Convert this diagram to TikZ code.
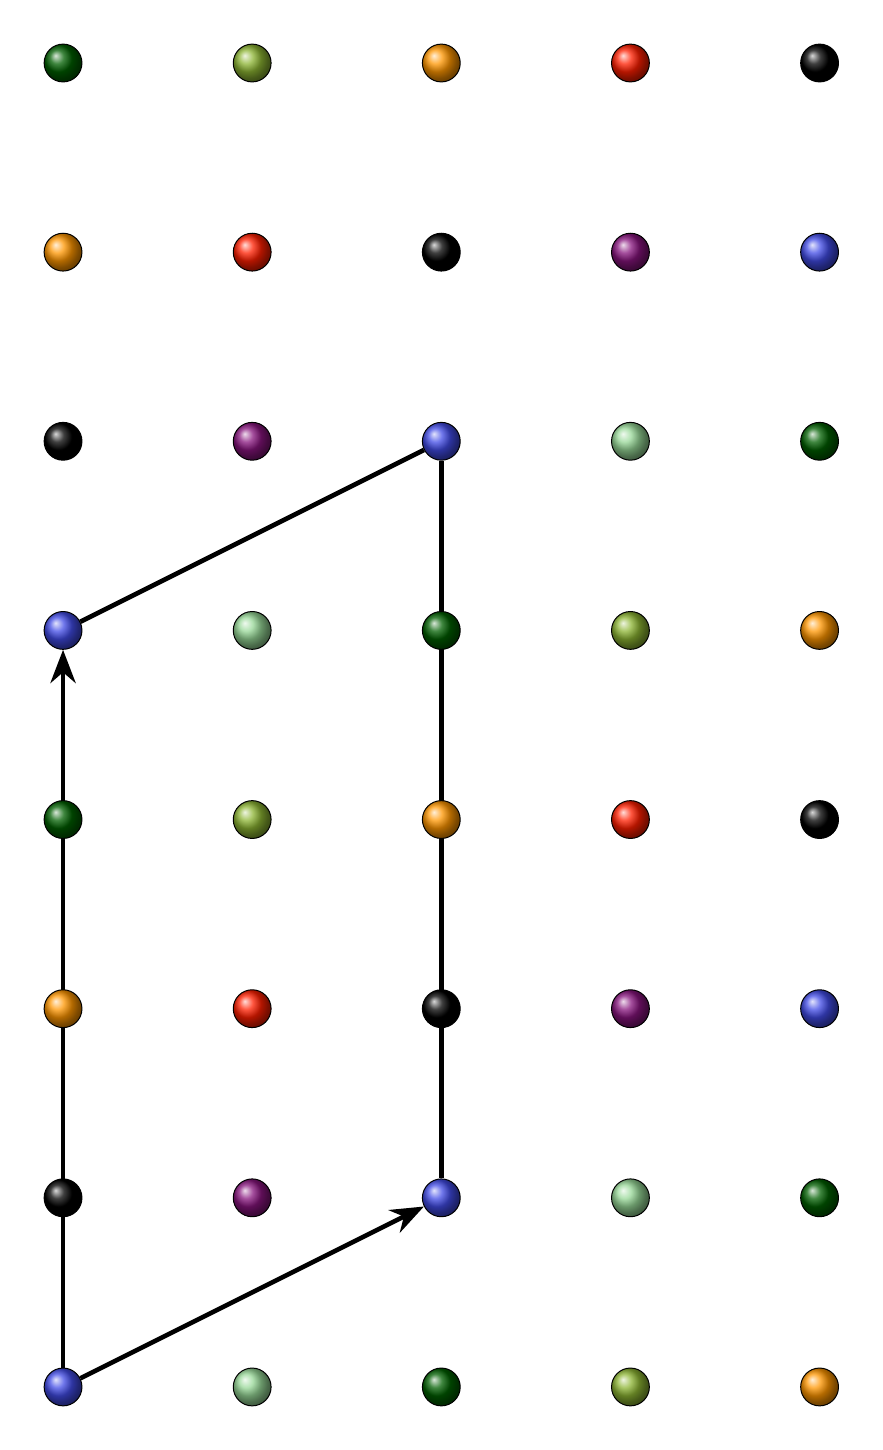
\documentclass[tikz,border=0pt]{standalone}
\usetikzlibrary{arrows.meta,backgrounds}
\definecolor{ballblue}{RGB}{65,75,230}
\definecolor{balllightgreen}{RGB}{150,215,150}
\definecolor{balldarkgreen}{RGB}{0,95,0}
\definecolor{ballolive}{RGB}{140,180,50}
\definecolor{ballorange}{RGB}{255,150,0}
\definecolor{ballred}{RGB}{255,30,0}
\definecolor{ballblack}{RGB}{0,0,0}
\definecolor{ballpurple}{RGB}{135,20,125}
\begin{document}
\begin{tikzpicture}[
		>={Stealth[length=5pt,width=3.8pt]},
		line cap=round,
		line join=round,
		ball/.style={circle,draw,line width=0.15pt,inner sep=0pt,minimum size=0.2cm},
		edge/.style={line width=0.7pt}
		]
		\useasboundingbox (-1/3,-1/3) rectangle (4+1/3,7+1/3);
		\foreach \x in {0,...,4}
		\foreach \y in {0,...,7}{
			\pgfmathtruncatemacro{\k}{mod(\x+6*\y,8)}
			\pgfmathparse{{"ballblue","balllightgreen","balldarkgreen","ballolive","ballorange","ballred","ballblack","ballpurple"}[\k]}
			\let\ballcol\pgfmathresult
			\node[ball,ball color=\ballcol] (b\x\y) at (\x,\y) {};
		}
		\begin{scope}[on background layer]
		\draw[edge,->] (b00) -- (b21);
		\draw[edge,->] (b00) -- (b04);
		\draw[edge] (b04) -- (b25);
		\draw[edge] (b21) -- (b25);
		\end{scope}
		\end{tikzpicture}
\end{document}
